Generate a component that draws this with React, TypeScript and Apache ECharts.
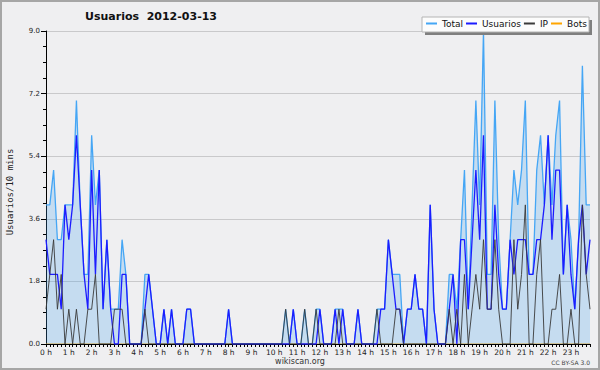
import React, { useEffect, useRef } from 'react';
import * as echarts from 'echarts';

// hour tick labels (one category every 10 minutes, 6 per hour)
const hourLabels = [
  '0 h', '1 h', '2 h', '3 h', '4 h', '5 h', '6 h', '7 h', '8 h', '9 h', '10 h', '11 h',
  '12 h', '13 h', '14 h', '15 h', '16 h', '17 h', '18 h', '19 h', '20 h', '21 h', '22 h', '23 h',
];
const slotMinutes = ['00', '10', '20', '30', '40', '50'];

const totalValues = [
  4, 4, 5, 3, 3, 4, 4, 4, 7, 4, 2, 2,
  6, 4, 5, 1, 3, 1, 1, 1, 3, 2, 0, 0,
  0, 0, 2, 2, 1, 0, 0, 1, 0, 1, 0, 0,
  0, 1, 1, 0, 0, 0, 0, 0, 0, 0, 0, 0,
  1, 0, 0, 0, 0, 0, 0, 0, 0, 0, 0, 0,
  0, 0, 0, 1, 0, 1, 0, 0, 1, 0, 0, 1,
  1, 0, 0, 0, 1, 1, 1, 0, 0, 0, 1, 0,
  0, 0, 0, 1, 1, 1, 3, 2, 2, 2, 0, 1,
  1, 2, 1, 1, 0, 4, 1, 0, 0, 0, 2, 2,
  1, 3, 5, 1, 4, 7, 4, 9, 2, 2, 7, 3,
  1, 1, 3, 5, 4, 5, 7, 2, 2, 5, 6, 4,
  6, 4, 6, 7, 2, 4, 3, 1, 3, 8, 4, 4,
];

const usuariosValues = [
  3, 2, 2, 2, 1, 4, 3, 4, 6, 4, 2, 1,
  5, 2, 5, 1, 3, 1, 0, 0, 2, 2, 0, 0,
  0, 0, 1, 2, 1, 0, 0, 1, 0, 1, 0, 0,
  0, 1, 1, 0, 0, 0, 0, 0, 0, 0, 0, 0,
  1, 0, 0, 0, 0, 0, 0, 0, 0, 0, 0, 0,
  0, 0, 0, 0, 0, 1, 0, 0, 0, 0, 0, 0,
  1, 0, 0, 0, 1, 0, 1, 0, 0, 0, 1, 0,
  0, 0, 0, 0, 1, 1, 3, 2, 1, 1, 0, 1,
  1, 2, 1, 1, 0, 4, 1, 0, 0, 0, 1, 2,
  0, 3, 3, 1, 3, 5, 3, 6, 1, 1, 4, 2,
  1, 1, 3, 2, 3, 3, 3, 2, 2, 3, 3, 4,
  6, 3, 5, 5, 2, 4, 2, 1, 3, 4, 2, 3,
];

const ipValues = [
  1, 2, 3, 1, 2, 0, 1, 0, 1, 0, 0, 1,
  1, 2, 0, 0, 0, 0, 1, 1, 1, 0, 0, 0,
  0, 0, 1, 0, 0, 0, 0, 0, 0, 0, 0, 0,
  0, 0, 0, 0, 0, 0, 0, 0, 0, 0, 0, 0,
  0, 0, 0, 0, 0, 0, 0, 0, 0, 0, 0, 0,
  0, 0, 0, 1, 0, 0, 0, 0, 1, 0, 0, 1,
  0, 0, 0, 0, 0, 1, 0, 0, 0, 0, 0, 0,
  0, 0, 0, 1, 0, 0, 0, 0, 1, 1, 0, 0,
  0, 0, 0, 0, 0, 0, 0, 0, 0, 0, 1, 0,
  1, 0, 2, 0, 1, 2, 1, 3, 1, 1, 3, 1,
  0, 0, 0, 3, 1, 2, 4, 0, 0, 2, 3, 0,
  0, 1, 1, 2, 0, 0, 1, 0, 0, 4, 2, 1,
];

const botsValues = [
  0, 0, 0, 0, 0, 0, 0, 0, 0, 0, 0, 0,
  0, 0, 0, 0, 0, 0, 0, 0, 0, 0, 0, 0,
  0, 0, 0, 0, 0, 0, 0, 0, 0, 0, 0, 0,
  0, 0, 0, 0, 0, 0, 0, 0, 0, 0, 0, 0,
  0, 0, 0, 0, 0, 0, 0, 0, 0, 0, 0, 0,
  0, 0, 0, 0, 0, 0, 0, 0, 0, 0, 0, 0,
  0, 0, 0, 0, 0, 0, 0, 0, 0, 0, 0, 0,
  0, 0, 0, 0, 0, 0, 0, 0, 0, 0, 0, 0,
  0, 0, 0, 0, 0, 0, 0, 0, 0, 0, 0, 0,
  0, 0, 0, 0, 0, 0, 0, 0, 0, 0, 0, 0,
  0, 0, 0, 0, 0, 0, 0, 0, 0, 0, 0, 0,
  0, 0, 0, 0, 0, 0, 0, 0, 0, 0, 0, 0,
];

const seriesNames = ['Total', 'Usuarios', 'IP', 'Bots'];
const titleText = 'Usuarios  2012-03-13';
const yAxisTitle = 'Usuarios/10 mins';

const FONT = '"DejaVu Sans", sans-serif';

export default function App() {
  const ref = useRef<HTMLDivElement>(null);

  useEffect(() => {
    if (!ref.current) return;
    const chart = echarts.init(ref.current, null, { renderer: 'svg' });
    const categories = hourLabels.flatMap((_, hi) => slotMinutes.map((m) => `${hi}:${m}`));

    const option: any = {
      animation: false,
      backgroundColor: '#efeff1',
      grid: { left: 46, top: 31, width: 544, height: 313, containLabel: false },
      legend: {
        data: seriesNames,
        left: 426,
        top: 19,
        padding: 0,
        z: 10,
        icon: 'rect',
        itemWidth: 11,
        itemHeight: 2,
        itemGap: 3,
        selectedMode: false,
        textStyle: { fontFamily: FONT, fontSize: 9, color: '#111' },
      },
      xAxis: {
        type: 'category',
        data: categories,
        boundaryGap: false,
        z: 3,
        axisLine: { lineStyle: { color: '#000', width: 1 } },
        axisTick: { show: true, interval: 0, length: 3, lineStyle: { color: '#000' } },
        axisLabel: {
          interval: 5,
          margin: 4,
          fontSize: 7.5,
          fontFamily: FONT,
          color: '#222',
          formatter: (_v: string, idx: number) => (idx % 6 === 0 ? hourLabels[idx / 6] : ''),
        },
        splitLine: { show: false },
      },
      yAxis: {
        type: 'value',
        min: 0,
        max: 9,
        interval: 1.8,
        axisLine: { show: true, lineStyle: { color: '#000', width: 1 } },
        axisTick: { show: true, length: 5, lineStyle: { color: '#000' } },
        minorTick: { show: true, splitNumber: 4, length: 3, lineStyle: { color: '#000' } },
        axisLabel: {
          fontSize: 7,
          fontFamily: FONT,
          color: '#222',
          margin: 6,
          formatter: (v: number) => v.toFixed(1),
        },
        splitLine: { show: true, lineStyle: { color: '#c9c9cb', width: 1 } },
      },
      series: [
        {
          name: 'Total',
          type: 'line',
          data: totalValues,
          symbol: 'none',
          z: 2,
          lineStyle: { color: '#45a6f5', width: 1.3 },
          itemStyle: { color: '#45a6f5' },
          areaStyle: { color: 'rgba(63,160,240,0.24)', opacity: 1 },
        },
        {
          name: 'Usuarios',
          type: 'line',
          data: usuariosValues,
          symbol: 'none',
          z: 3,
          lineStyle: { color: '#1c1cff', width: 1.3 },
          itemStyle: { color: '#1c1cff' },
        },
        {
          name: 'IP',
          type: 'line',
          data: ipValues,
          symbol: 'none',
          z: 4,
          lineStyle: { color: '#3a3a3a', width: 1, opacity: 0.9 },
          itemStyle: { color: '#3a3a3a' },
        },
        {
          name: 'Bots',
          type: 'line',
          data: botsValues,
          symbol: 'none',
          z: 1,
          lineStyle: { color: '#ffa500', width: 1 },
          itemStyle: { color: '#ffa500' },
        },
      ],
      graphic: [
        {
          type: 'rect',
          z: 3,
          shape: { x: 425, y: 20, width: 167, height: 15 },
          style: { fill: '#7f7f7f' },
          silent: true,
        },
        {
          type: 'rect',
          z: 3,
          shape: { x: 422, y: 17, width: 167, height: 15 },
          style: { fill: '#fcfcfc', stroke: '#b4b4b4', lineWidth: 1 },
          silent: true,
        },
        {
          type: 'text',
          x: 151,
          y: 16,
          style: {
            text: titleText,
            fontSize: 11,
            fontWeight: 'bold',
            fontFamily: FONT,
            fill: '#111',
            align: 'center',
            verticalAlign: 'middle',
            textAlign: 'center',
            textVerticalAlign: 'middle',
          },
        },
        {
          type: 'text',
          x: 10,
          y: 192,
          rotation: Math.PI / 2,
          style: {
            text: yAxisTitle,
            fontSize: 9,
            fontFamily: '"DejaVu Sans Mono", monospace',
            fill: '#222',
            align: 'center',
            verticalAlign: 'middle',
            textAlign: 'center',
            textVerticalAlign: 'middle',
          },
        },
        {
          type: 'text',
          x: 300,
          y: 361,
          style: {
            text: 'wikiscan.org',
            fontSize: 8,
            fontFamily: FONT,
            fill: '#333',
            align: 'center',
            verticalAlign: 'middle',
            textAlign: 'center',
            textVerticalAlign: 'middle',
          },
        },
        {
          type: 'text',
          x: 590,
          y: 362,
          style: {
            text: 'CC BY-SA 3.0',
            fontSize: 6,
            fontFamily: FONT,
            fill: '#444',
            align: 'right',
            verticalAlign: 'middle',
            textAlign: 'right',
            textVerticalAlign: 'middle',
          },
        },
        {
          type: 'rect',
          z: 100,
          shape: { x: 1, y: 1, width: 598, height: 368 },
          style: { fill: 'none', stroke: '#a6a6a6', lineWidth: 2 },
          silent: true,
        },
      ],
    };

    chart.setOption(option);
    return () => chart.dispose();
  }, []);

  return (
    <div
      ref={ref}
      style={{ position: 'absolute', left: 0, top: 0, width: 600, height: 370 }}
    />
  );
}
